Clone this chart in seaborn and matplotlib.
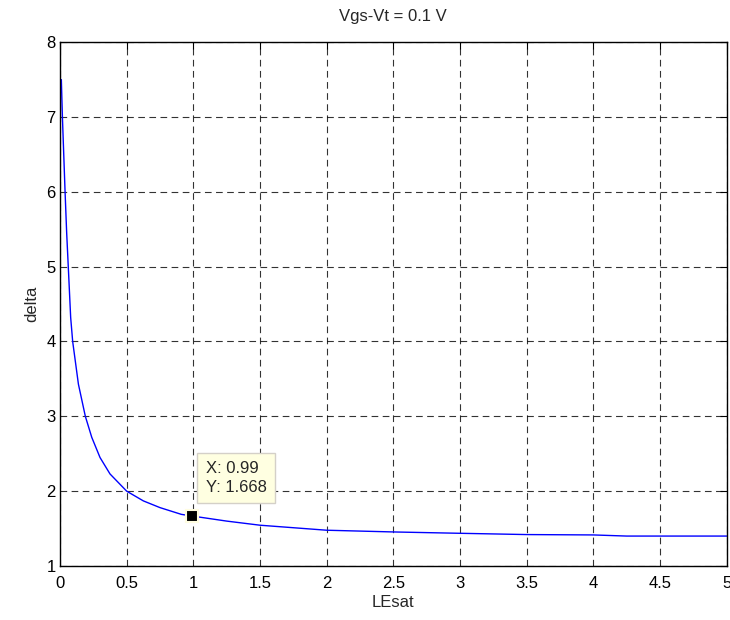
import matplotlib
matplotlib.use("Agg")
import matplotlib.pyplot as plt
import seaborn as sns
import pandas as pd

# Data
lesat = [0.01, 0.018, 0.028, 0.038, 0.05, 0.062, 0.08, 0.095, 0.138, 0.19, 0.238,
         0.30, 0.375, 0.5, 0.625, 0.75, 0.91, 0.99, 1.25, 1.5, 2.0, 2.5, 3.0, 3.5,
         4.0, 4.25, 5.0]
delta = [7.5, 7.0, 6.5, 6.0, 5.45, 5.0, 4.32, 4.0, 3.43, 3.0, 2.72,
         2.45, 2.23, 2.0, 1.87, 1.78, 1.69, 1.668, 1.60, 1.545, 1.478, 1.455, 1.437, 1.42,
         1.415, 1.40, 1.40]
tip_x, tip_y = 0.99, 1.668
xticks = [0, 0.5, 1, 1.5, 2, 2.5, 3, 3.5, 4, 4.5, 5]
xticklabels = ["0", "0.5", "1", "1.5", "2", "2.5", "3", "3.5", "4", "4.5", "5"]
yticks = [1, 2, 3, 4, 5, 6, 7, 8]

df = pd.DataFrame({"LEsat": lesat, "delta": delta})

sns.set_style("white")
plt.rcParams["font.family"] = ["Liberation Sans", "DejaVu Sans"]

fig = plt.figure(figsize=(7.3, 6.2), dpi=100)
ax = fig.add_axes([0.0822, 0.0871, 0.9133, 0.8449])

sns.lineplot(data=df, x="LEsat", y="delta", ax=ax, color="#0000ff", linewidth=1.0,
             estimator=None, sort=False)

ax.set_xlim(0, 5)
ax.set_ylim(1, 8)
ax.set_xticks(xticks)
ax.set_xticklabels(xticklabels)
ax.set_yticks(yticks)
ax.grid(True, color="black", linestyle=(0, (6, 4)), linewidth=0.8, alpha=0.8)
ax.tick_params(direction="in", length=5, width=0.8, labelsize=12, colors="black",
               top=True, right=True)
ax.tick_params(axis="x", pad=7)
ax.tick_params(axis="y", pad=3)
for s in ax.spines.values():
    s.set_color("black")
    s.set_linewidth(1.0)
    s.set_visible(True)

ax.set_xlabel("LEsat", fontsize=12, labelpad=3)
ax.set_ylabel("delta", fontsize=12, labelpad=5)
ax.set_title("Vgs-Vt = 0.1 V", fontsize=12, pad=15)

# Data tip
ax.plot([tip_x], [tip_y], marker="s", color="black", markersize=9,
        markeredgecolor="#fffde0", markeredgewidth=1.5, zorder=5)
ax.text(1.093, 2.40, f"X: {tip_x}\nY: {tip_y}", fontsize=12, ha="left", va="top",
        linespacing=1.3, zorder=6,
        bbox=dict(boxstyle="square,pad=0.5", fc="#ffffe1", ec="#d4d0c8", lw=1))

fig.savefig("out.png", dpi=100)
